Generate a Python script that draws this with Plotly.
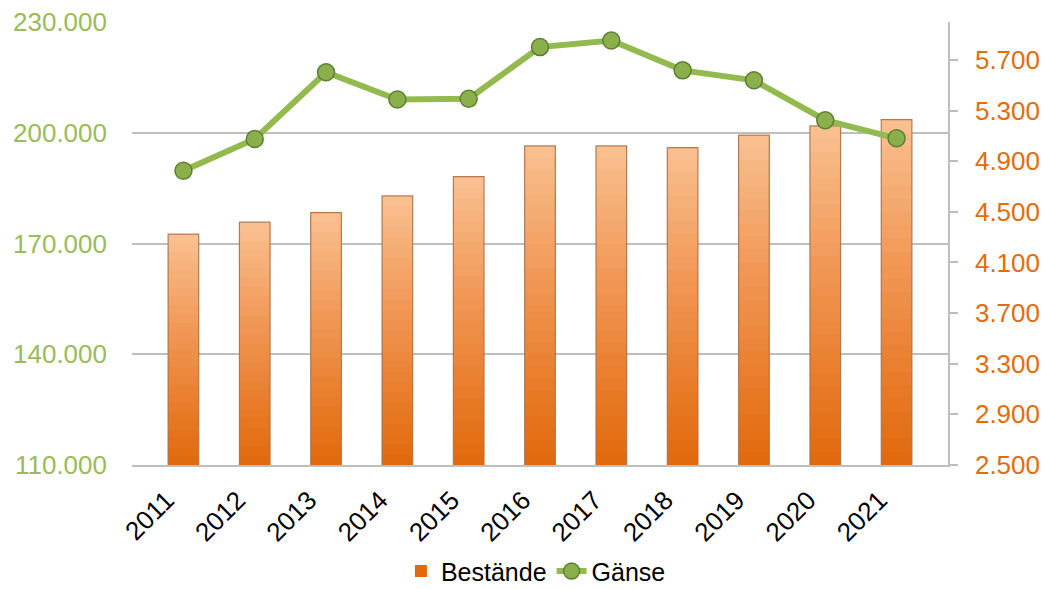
import plotly.graph_objects as go

years = ["2011", "2012", "2013", "2014", "2015", "2016", "2017", "2018", "2019", "2020", "2021"]
bestaende = [4324, 4419, 4494, 4626, 4778, 5021, 5021, 5007, 5107, 5179, 5229]
gaense = [189700, 198300, 216400, 209000, 209200, 223200, 225000, 216900, 214200, 203400, 198500]

right_ticks = [2500, 2900, 3300, 3700, 4100, 4500, 4900, 5300, 5700]
left_ticks = [110000, 140000, 170000, 200000, 230000]
right_range = [2500, 6000]
left_range = [110000, 230000]

FONT = "Arial, Liberation Sans, sans-serif"
DARK = (226, 106, 14)
LIGHT = (251, 196, 150)
N = 26

fig = go.Figure()

# base bar (dark bottom colour, carries legend entry)
fig.add_trace(go.Bar(
    x=years, y=bestaende, name="Bestände", yaxis="y",
    marker=dict(color="rgb(%d,%d,%d)" % DARK, line=dict(width=0)),
    hoverinfo="skip",
))

# gradient overlays: lighter layers towards the top of each bar
b0 = right_range[0]
for j in range(1, N):
    f = j / N
    a = 1.0 / (N - j + 1)
    bases = [b0 + (v - b0) * f for v in bestaende]
    lens = [v - b for v, b in zip(bestaende, bases)]
    fig.add_trace(go.Bar(
        x=years, y=lens, base=bases, yaxis="y", showlegend=False,
        marker=dict(color="rgba(%d,%d,%d,%.4f)" % (LIGHT + (a,)), line=dict(width=0)),
        hoverinfo="skip",
    ))

# outline
fig.add_trace(go.Bar(
    x=years, y=bestaende, yaxis="y", showlegend=False,
    marker=dict(color="rgba(0,0,0,0)", line=dict(color="rgba(170,110,70,0.85)", width=1.2)),
    hoverinfo="skip",
))

fig.add_trace(go.Scatter(
    x=years, y=gaense, name="Gänse", yaxis="y2", mode="lines+markers",
    line=dict(color="#93BA4F", width=6),
    marker=dict(size=17, color="#8BB04B", line=dict(color="#5E7E34", width=1.5)),
))

fig.update_layout(
    width=1042, height=589,
    margin=dict(l=132, r=94, t=22, b=124, autoexpand=False),
    paper_bgcolor="white", plot_bgcolor="white",
    barmode="overlay", bargap=0.57,
    separators=",.",
    font=dict(family=FONT, size=26, color="black"),
    xaxis=dict(
        type="category", showline=True, linecolor="#BFBFBF", linewidth=1.5,
        ticks="", tickangle=-45, showgrid=False, automargin=False,
        ticklabelshift=-17, ticklabelstandoff=8,
        tickfont=dict(family=FONT, size=26, color="black"),
    ),
    yaxis=dict(
        side="right", range=right_range, tickvals=right_ticks, tickformat=",d",
        showgrid=False, zeroline=False, showline=True, linecolor="#BFBFBF", linewidth=1.5,
        ticks="outside", ticklen=8, tickcolor="#BFBFBF", tickwidth=1.5,
        ticklabelstandoff=12, automargin=False,
        tickfont=dict(family=FONT, size=26, color="#E46C0A"),
    ),
    yaxis2=dict(
        side="left", overlaying="y", range=left_range, tickvals=left_ticks, tickformat=",d",
        showgrid=True, gridcolor="#BFBFBF", gridwidth=1.5, zeroline=False, showline=False,
        ticks="", ticklabelstandoff=24, automargin=False,
        tickfont=dict(family=FONT, size=26, color="#9BBB59"),
    ),
    legend=dict(
        orientation="h", x=0.495, xanchor="center", yref="container", y=0.03, yanchor="middle",
        font=dict(family=FONT, size=25, color="black"), traceorder="normal",
        bgcolor="rgba(0,0,0,0)", tracegroupgap=0,
    ),
    showlegend=True,
)

fig.write_html("out.html")
